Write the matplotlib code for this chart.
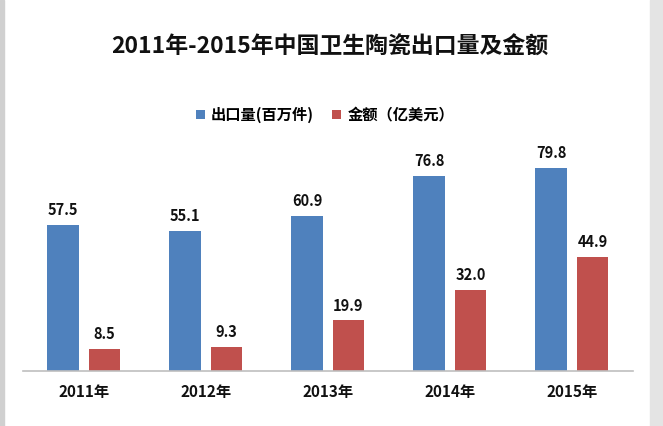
import matplotlib
matplotlib.use("Agg")
import matplotlib.pyplot as plt
import numpy as np
from matplotlib.patches import Rectangle

plt.rcParams['font.family'] = ['Noto Sans CJK SC', 'DejaVu Sans']

categories = ["2011年", "2012年", "2013年", "2014年", "2015年"]
volume = [57.5, 55.1, 60.9, 76.8, 79.8]
amount = [8.5, 9.3, 19.9, 32.0, 44.9]
series_names = ["出口量(百万件)", "金额（亿美元）"]
title = "2011年-2015年中国卫生陶瓷出口量及金额"

blue = "#4F81BD"
red = "#C0504D"

W, H = 663, 426
fig = plt.figure(figsize=(W/100, H/100), dpi=100)
fig.patch.set_facecolor("white")

ax = fig.add_axes([23/W, (H-371)/H, 610/W, (371-140)/H])
x = np.arange(len(categories))
bw = 0.262
b1 = ax.bar(x - 0.172, volume, bw, color=blue)
b2 = ax.bar(x + 0.168, amount, bw, color=red)
ax.set_xlim(-0.5, len(categories) - 0.5)
ax.set_ylim(0, 91)
for bars, vals in ((b1, volume), (b2, amount)):
    for r, v in zip(bars, vals):
        ax.annotate(f"{v:.1f}", (r.get_x() + r.get_width()/2, v), xytext=(0, 5),
                    textcoords="offset points", ha="center", va="bottom",
                    fontsize=10.5, fontweight="bold", color="#111111")
for s in ("top", "right", "left"):
    ax.spines[s].set_visible(False)
ax.spines["bottom"].set_color("#BFBFBF")
ax.spines["bottom"].set_linewidth(1.2)
ax.set_yticks([])
ax.set_xticks(x)
ax.set_xticklabels(categories, fontsize=11, fontweight="bold", color="#111111")
ax.tick_params(axis="x", length=0, pad=9)

fig.text(0.497, (H-47)/H, title, ha="center", va="center", fontsize=16.5,
         fontweight="bold", color="#111111")

leg = fig.legend([b1, b2], series_names, loc="center", bbox_to_anchor=(0.49, (H-115)/H),
                 ncol=2, frameon=False, prop={"size": 11, "weight": "bold"},
                 handlelength=0.6, handleheight=0.6, columnspacing=1.2, handletextpad=0.4)

# light gray side borders
fig.add_artist(Rectangle((0, 0), 4/W, 1, transform=fig.transFigure, color="#D0D0D0", zorder=0))
fig.add_artist(Rectangle((1-13/W, 0), 13/W, 1, transform=fig.transFigure, color="#E4E4E4", zorder=0))

fig.savefig("out.png", dpi=100)
